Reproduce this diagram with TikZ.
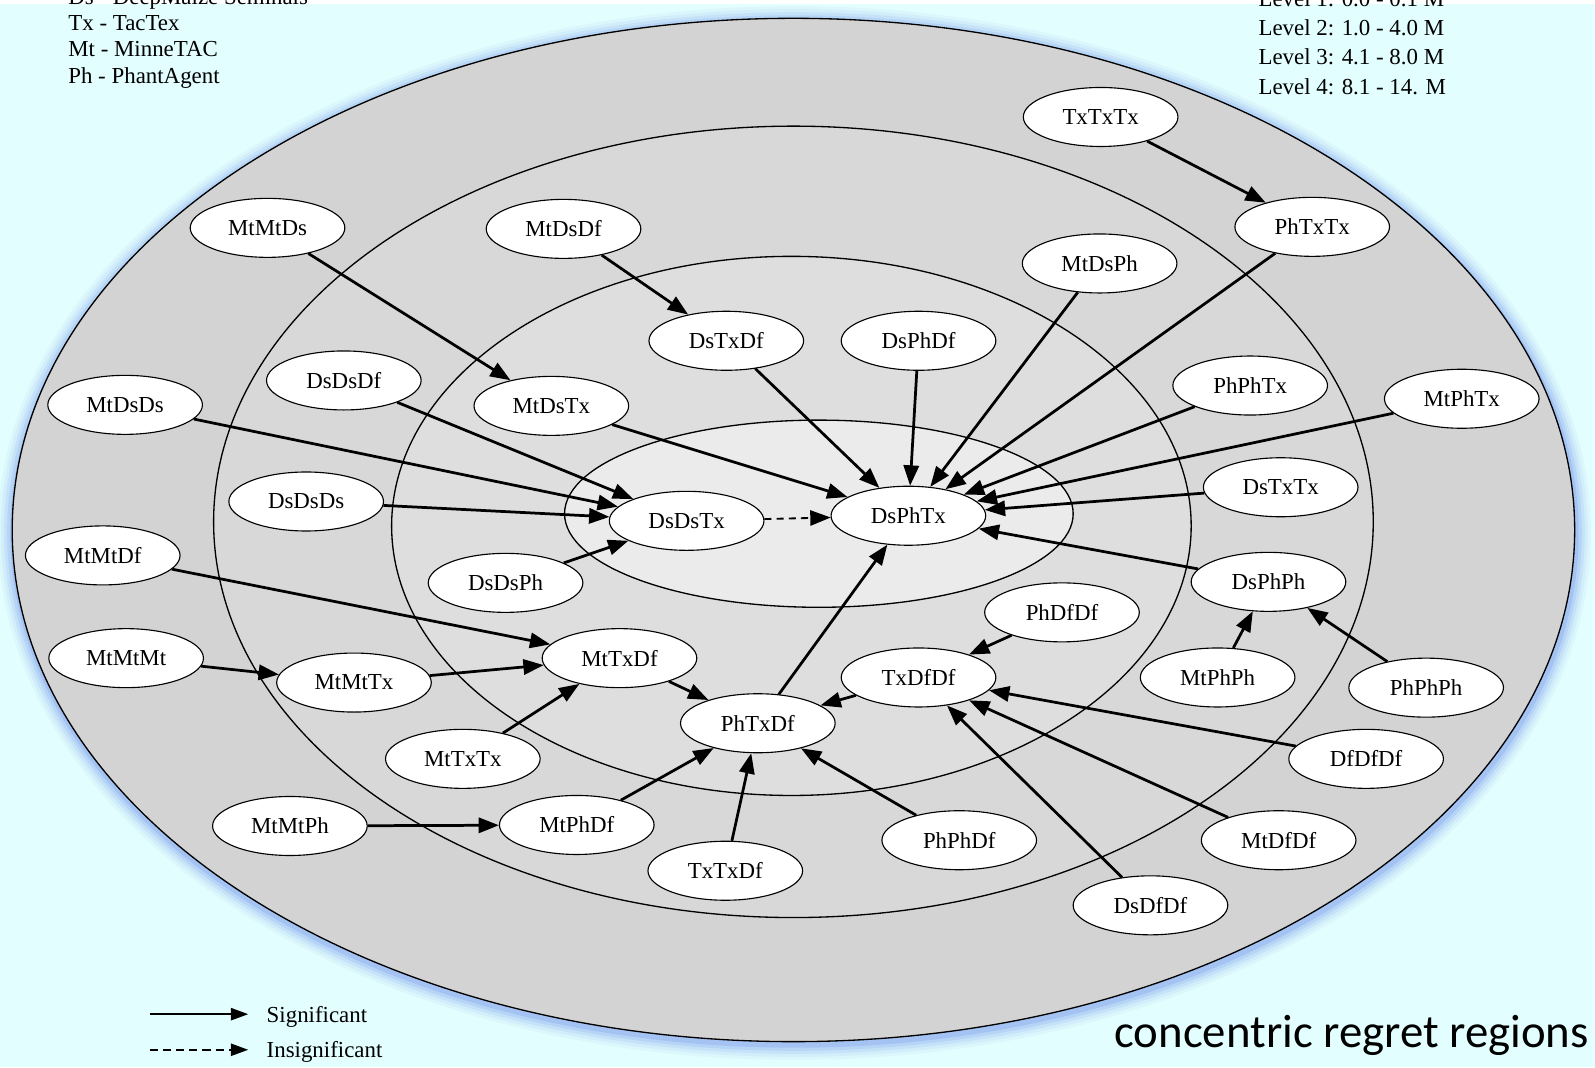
\documentclass[tikz,border=0pt]{standalone}
\usepackage{fontspec}
\setmainfont{Liberation Serif}
\newfontfamily\calibrilike{Carlito}
\usetikzlibrary{arrows.meta,shapes.geometric}

\definecolor{bgcyan}{HTML}{E2FEFE}
\definecolor{glow}{HTML}{5C7FEA}
\definecolor{ringA}{HTML}{D3D3D3}
\definecolor{ringB}{HTML}{D8D8D8}
\definecolor{ringC}{HTML}{DEDEDE}
\definecolor{ringD}{HTML}{EBEBEB}

\tikzset{
  agent/.style={ellipse, draw=black, line width=1.1pt, fill=white,
    minimum width=152pt, minimum height=58pt, inner sep=0pt,
    font=\fontsize{22.5}{22.5}\selectfont},
  sig/.style={line width=2.7pt, -{Triangle[length=20pt,width=15pt]}},
  insig/.style={line width=1.8pt, dash pattern=on 7pt off 5pt, -{Triangle[length=20pt,width=15pt]}},
  legtext/.style={anchor=base west, font=\fontsize{22.5}{23}\selectfont, inner sep=0pt},
  ring/.style={draw=black, line width=1.3pt},
}

\begin{document}
\begin{tikzpicture}[x=1pt,y=-1pt]
  % canvas
  \useasboundingbox (0,0) rectangle (1568,1049);
  \begin{scope}
  \clip (0,0) rectangle (1568,1049);
  \fill[bgcyan] (0,0) rectangle (1568,1049);
  \fill[white] (0,0) rectangle (1568,4);

  % soft blue glow round the outer region
  \foreach \d/\o in {30/0.05,24/0.07,18/0.10,12/0.14,6/0.2}
    \draw[glow, line width=\d pt, opacity=\o] (781,524) ellipse (768pt and 503pt);

  % concentric regret regions
  \draw[ring, fill=ringA] (780,521) ellipse (768pt and 503pt);
  \draw[ring, fill=ringB] (780,513) ellipse (570pt and 389pt);
  \draw[ring, fill=ringC] (778,517) ellipse (393pt and 265pt);
  \draw[ring, fill=ringD] (805,505) ellipse (250pt and 92pt);

  % abbreviations
  \node[legtext] (abDs) at (67,4)  {Ds - DeepMaize Seminals};
  \node[legtext] (abTx) at (67,30) {Tx - TacTex};
  \node[legtext] (abMt) at (67,56) {Mt - MinneTAC};
  \node[legtext] (abPh) at (67,82) {Ph - PhantAgent};

  % regret levels
  \node[legtext] (lv1) at (1237,6)  {Level 1: 0.0 - 0.1 M};
  \node[legtext] (lv2) at (1237,35) {Level 2: 1.0 - 4.0 M};
  \node[legtext] (lv3) at (1237,63) {Level 3: 4.1 - 8.0 M};
  \node[legtext] (lv4) at (1237,93) {Level 4: 8.1 - 14. M};
  \end{scope}

  % agent profiles
  \node[agent] (TxTxTx) at (1082,115) {TxTxTx};
  \node[agent] (PhTxTx) at (1290,223) {PhTxTx};
  \node[agent] (MtMtDs) at (263,224) {MtMtDs};
  \node[agent] (MtDsDf) at (554,225) {MtDsDf};
  \node[agent] (MtDsPh) at (1081,259) {MtDsPh};
  \node[agent] (DsTxDf) at (714,335) {DsTxDf};
  \node[agent] (DsPhDf) at (903,335) {DsPhDf};
  \node[agent] (PhPhTx) at (1229,379) {PhPhTx};
  \node[agent] (MtPhTx) at (1437,392) {MtPhTx};
  \node[agent] (MtDsDs) at (123,398) {MtDsDs};
  \node[agent] (DsDsDf) at (338,374) {DsDsDf};
  \node[agent] (MtDsTx) at (542,399) {MtDsTx};
  \node[agent] (DsDsDs) at (301,493) {DsDsDs};
  \node[agent] (DsTxTx) at (1259,479) {DsTxTx};
  \node[agent] (DsDsTx) at (675,512) {DsDsTx};
  \node[agent] (DsPhTx) at (893,507) {DsPhTx};
  \node[agent] (MtMtDf) at (101,546) {MtMtDf};
  \node[agent] (DsDsPh) at (497,573) {DsDsPh};
  \node[agent] (DsPhPh) at (1247,572) {DsPhPh};
  \node[agent] (PhDfDf) at (1044,602) {PhDfDf};
  \node[agent] (MtTxDf) at (609,647) {MtTxDf};
  \node[agent] (MtMtMt) at (124,647) {MtMtMt};
  \node[agent] (MtMtTx) at (348,671) {MtMtTx};
  \node[agent] (TxDfDf) at (903,666) {TxDfDf};
  \node[agent] (MtPhPh) at (1197,666) {MtPhPh};
  \node[agent] (PhPhPh) at (1402,676) {PhPhPh};
  \node[agent] (PhTxDf) at (745,711) {PhTxDf};
  \node[agent] (MtTxTx) at (455,746) {MtTxTx};
  \node[agent] (DfDfDf) at (1343,746) {DfDfDf};
  \node[agent] (MtMtPh) at (285,812) {MtMtPh};
  \node[agent] (MtPhDf) at (567,811) {MtPhDf};
  \node[agent] (PhPhDf) at (943,826) {PhPhDf};
  \node[agent] (MtDfDf) at (1257,826) {MtDfDf};
  \node[agent] (TxTxDf) at (713,856) {TxTxDf};
  \node[agent] (DsDfDf) at (1131,890) {DsDfDf};

  % deviations
  \draw[sig] (TxTxTx) -- (PhTxTx);
  \draw[sig] (MtDsDf) -- (DsTxDf);
  \draw[sig] (MtMtDs) -- (MtDsTx);
  \draw[sig] (MtDsTx) -- (DsPhTx);
  \draw[sig] (DsTxDf) -- (DsPhTx);
  \draw[sig] (DsPhDf) -- (DsPhTx);
  \draw[sig] (MtDsPh) -- (DsPhTx);
  \draw[sig] (PhTxTx) -- (DsPhTx);
  \draw[sig] (PhPhTx) -- (DsPhTx);
  \draw[sig] (MtPhTx) -- (DsPhTx);
  \draw[sig] (DsTxTx) -- (DsPhTx);
  \draw[sig] (DsPhPh) -- (DsPhTx);
  \draw[sig] (PhTxDf) -- (DsPhTx);
  \draw[insig] (DsDsTx) -- (DsPhTx);
  \draw[sig] (MtDsDs) -- (DsDsTx);
  \draw[sig] (DsDsDf) -- (DsDsTx);
  \draw[sig] (DsDsDs) -- (DsDsTx);
  \draw[sig] (DsDsPh) -- (DsDsTx);
  \draw[sig] (MtMtDf) -- (MtTxDf);
  \draw[sig] (MtMtMt) -- (MtMtTx);
  \draw[sig] (MtMtTx) -- (MtTxDf);
  \draw[sig] (MtTxTx) -- (MtTxDf);
  \draw[sig] (MtTxDf) -- (PhTxDf);
  \draw[sig] (MtPhDf) -- (PhTxDf);
  \draw[sig] (TxTxDf) -- (PhTxDf);
  \draw[sig] (PhPhDf) -- (PhTxDf);
  \draw[sig] (TxDfDf) -- (PhTxDf);
  \draw[sig] (PhDfDf) -- (TxDfDf);
  \draw[sig] (DfDfDf) -- (TxDfDf);
  \draw[sig] (MtDfDf) -- (TxDfDf);
  \draw[sig] (DsDfDf) -- (TxDfDf);
  \draw[sig] (MtPhPh) -- (DsPhPh);
  \draw[sig] (PhPhPh) -- (DsPhPh);
  \draw[sig] (MtMtPh) -- (MtPhDf);

  % line-style key
  \coordinate (sigA) at (147,997);
  \coordinate (sigB) at (244,997);
  \coordinate (insA) at (147,1032);
  \coordinate (insB) at (244,1032);
  \draw[line width=1.8pt, -{Triangle[length=17pt,width=12pt]}] (sigA) -- (sigB);
  \draw[line width=1.8pt, dash pattern=on 8pt off 5pt, -{Triangle[length=17pt,width=12pt]}] (insA) -- (insB);
  \node[legtext] (sigtxt) at (262,1005) {Significant};
  \node[legtext] (instxt) at (262,1040) {Insignificant};

  % caption
  \node[anchor=base east, inner sep=0pt, font=\calibrilike\fontsize{46}{46}\selectfont] (cap) at (1562,1030) {concentric regret regions};
\end{tikzpicture}
\end{document}
